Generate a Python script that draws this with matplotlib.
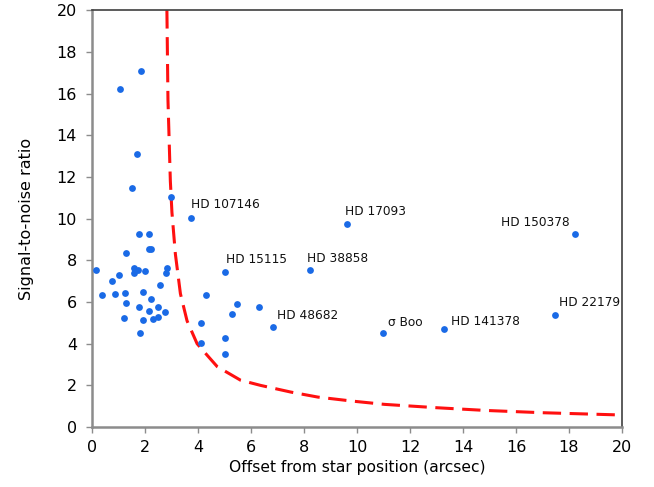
# Signal-to-noise ratio vs. offset from star position, with detection threshold curve
import matplotlib
matplotlib.use("Agg")
import matplotlib.pyplot as plt

# unlabelled detections (offset arcsec, SNR)
offset = [1.85, 1.06, 1.68, 1.52, 2.99,
          0.13, 0.38, 0.76, 1.01, 0.86, 1.27, 1.25, 1.28, 1.20,
          1.56, 1.56, 1.72, 1.78, 2.14, 2.13, 2.22, 2.00, 1.92, 2.22,
          2.57, 2.82, 2.80, 1.78, 2.13, 2.47, 2.76, 1.90, 2.30, 2.49, 1.81,
          4.29, 5.45, 5.26, 6.30, 4.10, 4.09, 5.02, 5.02]
snr = [17.09, 16.24, 13.08, 11.46, 11.06,
       7.56, 6.36, 7.01, 7.28, 6.40, 8.35, 6.45, 5.95, 5.25,
       7.63, 7.39, 7.56, 9.25, 9.28, 8.55, 8.56, 7.47, 6.47, 6.15,
       6.84, 7.63, 7.39, 5.76, 5.57, 5.76, 5.54, 5.16, 5.19, 5.30, 4.50,
       6.36, 5.90, 5.42, 5.76, 5.01, 4.05, 4.26, 3.52]

# labelled stars
names = ["HD 107146", "HD 15115", "HD 38858", "HD 48682", "HD 17093",
         "HD 150378", "HD 22179", "\u03c3 Boo", "HD 141378"]
name_offset = [3.73, 5.01, 8.21, 6.81, 9.62, 18.23, 17.48, 10.99, 13.30]
name_snr = [10.03, 7.43, 7.56, 4.80, 9.76, 9.25, 5.36, 4.53, 4.70]

# detection limit curve
curve_x = [2.82, 2.86, 2.95, 3.01, 3.14, 3.33, 3.58, 3.96, 4.40, 4.72,
           5.60, 6.36, 7.50, 8.52, 9.80, 11.04, 13.0, 14.84, 17.0, 20.0]
curve_y = [20.0, 15.7, 11.8, 10.3, 8.3, 6.4, 5.1, 4.0, 3.36, 2.9,
           2.25, 2.0, 1.68, 1.44, 1.25, 1.09, 0.93, 0.80, 0.69, 0.58]

# label placement (pixels from the dot), ha
label_pos = {
    "HD 107146": (0, 14, "left"),
    "HD 15115": (1, 13, "left"),
    "HD 38858": (-3, 11, "left"),
    "HD 48682": (4, 12, "left"),
    "HD 17093": (-2, 12, "left"),
    "HD 150378": (-5, 12, "right"),
    "HD 22179": (4, 13, "left"),
    "\u03c3 Boo": (5, 10, "left"),
    "HD 141378": (7, 8, "left"),
}

blue = "#1a6ae6"

fig = plt.figure(figsize=(6.54, 4.87), dpi=100)
ax = fig.add_axes([0.141, 0.123, 0.81, 0.856])

ax.plot(curve_x, curve_y, color="#ff1010", lw=2.2, dashes=(6, 2.8), zorder=2)
ax.plot(offset, snr, "o", color=blue, ms=4.9, mec="none", zorder=3)
ax.plot(name_offset, name_snr, "o", color=blue, ms=4.9, mec="none", zorder=3)

for n, x, y in zip(names, name_offset, name_snr):
    dx, dy, ha = label_pos[n]
    ax.annotate(n, (x, y), xytext=(dx, dy), textcoords="offset pixels",
                ha=ha, va="center", fontsize=8.7, color="#111111")

ax.set_xlim(0, 20)
ax.set_ylim(0, 20)
ax.set_xticks(range(0, 21, 2))
ax.set_yticks(range(0, 21, 2))
ax.tick_params(direction="out", length=4, width=1, color="#8c8c8c",
               labelsize=11.5)
ax.tick_params(axis="y", pad=7)
ax.tick_params(axis="x", pad=5)

ax.set_xlabel("Offset from star position (arcsec)", fontsize=11.2, labelpad=4)
ax.set_ylabel("Signal-to-noise ratio", fontsize=11.5, labelpad=16)

for s in ["left", "bottom"]:
    ax.spines[s].set_color("#8c8c8c")
    ax.spines[s].set_linewidth(1.8)
for s in ["top", "right"]:
    ax.spines[s].set_color("#404040")
    ax.spines[s].set_linewidth(1.2)

fig.savefig("out.png", dpi=100)
